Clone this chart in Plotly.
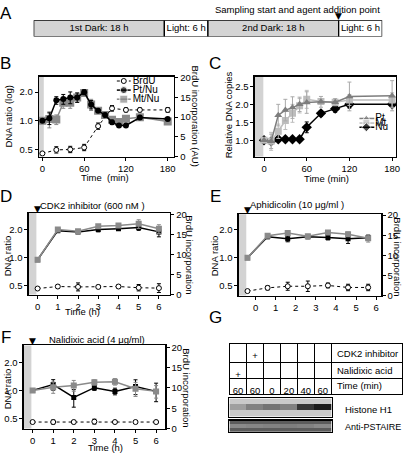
import math
import plotly.graph_objects as go

FONT = "Liberation Sans, Arial, Helvetica, sans-serif"
W, H = 409, 457

# ---------------- data ----------------
phase_labels = ["1st Dark: 18 h", "Light: 6 h", "2nd Dark: 18 h", "Light: 6 h"]
phase_hours = [18, 6, 18, 6]

b_time = [0, 10, 20, 30, 40, 50, 60, 70, 80, 90, 100, 110, 120, 140, 180]
b_pt_nu = [1.0, 1.06, 1.64, 1.69, 1.76, 1.76, 2.0, 1.48, 1.27, 1.15, 0.96, 0.89, 0.89, 1.08, 1.04]
b_pt_nu_err = [0.02, 0.15, 0.15, 0.2, 0.25, 0.2, 0.12, 0.15, 0.05, 0.05, 0.05, 0.04, 0.04, 0.05, 0.04]
b_mt_nu = [1.0, 1.04, 1.03, 1.55, 1.55, 1.76, 1.96, 1.48, 1.27, 1.15, 1.02, 0.97, 1.05, 1.09, 0.98]
b_mt_nu_err = [0.02, 0.2, 0.12, 0.2, 0.2, 0.2, 0.15, 0.2, 0.05, 0.05, 0.06, 0.05, 0.04, 0.06, 0.06]
b_brdu_time = [0, 20, 40, 60, 80, 100, 120, 140, 180]
b_brdu = [0.8, 1.7, 1.8, 2.3, 7.7, 12.2, 11.8, 11.8, 11.8]
b_brdu_err = [0.2, 0.8, 0.8, 0.8, 0.8, 0.7, 0.5, 0.5, 0.6]

c_time = [0, 10, 20, 30, 40, 50, 60, 80, 100, 120, 180]
c_pt = [1.0, 0.97, 1.70, 1.84, 1.91, 2.0, 2.05, 2.07, 2.06, 2.22, 2.24]
c_pt_err = [0.02, 0.2, 0.3, 0.3, 0.3, 0.2, 0.3, 0.15, 0.1, 0.4, 0.42]
c_mt = [1.0, 0.97, 1.25, 1.55, 1.75, 1.96, 2.14, 2.08, 2.06, 2.12, 2.12]
c_mt_err = [0.02, 0.25, 0.2, 0.25, 0.25, 0.2, 0.25, 0.08, 0.08, 0.15, 0.2]
c_nu = [1.0, 0.97, 1.03, 1.03, 1.03, 1.03, 1.36, 1.75, 1.88, 2.0, 2.0]
c_nu_err = [0.02, 0.03, 0.03, 0.03, 0.03, 0.03, 0.15, 0.08, 0.1, 0.1, 0.06]

h_time = [0, 1, 2, 3, 4, 5, 6]

d_pt_nu = [0.95, 1.96, 1.90, 2.02, 2.06, 2.12, 1.90]
d_pt_nu_err = [0.02, 0.05, 0.04, 0.12, 0.08, 0.15, 0.22]
d_mt_nu = [0.95, 2.01, 1.93, 2.18, 2.22, 2.32, 2.05]
d_mt_nu_err = [0.02, 0.1, 0.05, 0.1, 0.08, 0.25, 0.22]
d_brdu = [1.5, 2.0, 1.9, 1.9, 2.0, 1.7, 1.6]
d_brdu_err = [0.2, 0.4, 1.0, 0.4, 0.4, 0.8, 1.1]

e_pt_nu = [1.0, 1.69, 1.61, 1.69, 1.66, 1.61, 1.65]
e_pt_nu_err = [0.02, 0.08, 0.12, 0.08, 0.1, 0.18, 0.1]
e_mt_nu = [1.0, 1.73, 1.85, 1.71, 1.88, 1.80, 1.63]
e_mt_nu_err = [0.02, 0.08, 0.08, 0.08, 0.08, 0.1, 0.15]
e_brdu = [1.1, 1.9, 2.3, 2.3, 2.5, 2.0, 2.0]
e_brdu_err = [0.2, 0.5, 1.0, 1.3, 0.6, 0.8, 0.8]

f_pt_nu = [1.0, 1.155, 0.84, 1.07, 0.976, 1.10, 0.976]
f_pt_nu_err = [0.02, 0.15, 0.18, 0.07, 0.08, 0.2, 0.22]
f_mt_nu = [1.0, 1.08, 1.13, 1.22, 1.24, 1.04, 0.976]
f_mt_nu_err = [0.02, 0.15, 0.15, 0.08, 0.1, 0.18, 0.15]
f_brdu = [1.6, 1.6, 1.6, 1.7, 1.6, 1.6, 1.6]
f_brdu_err = [0.2, 0.5, 0.4, 0.6, 0.3, 0.3, 0.3]

g_cdk2 = ["", "+", "", "", "", ""]
g_nalidixic = ["+", "", "", "", "", ""]
g_time_min = ["60", "60", "0", "20", "40", "60"]
g_row_labels = ["CDK2 inhibitor", "Nalidixic acid", "Time (min)"]
h1_intensity = [0.25, 0.42, 0.5, 0.42, 0.85, 1.0]
pstaire_intensity = [0.6, 0.55, 0.5, 0.45, 0.5, 0.6]


def px(x):
    return x / W


def py(y):
    return 1 - y / H


fig = go.Figure()
ann = []
shapes = []

BLACK = "#000000"
GRAY = "#8a8a8a"
LGRAY = "#bdbdbd"
MGRAY = "#7d7d7d"
TICKF = dict(size=9.5, family=FONT, color="black")


def base_axis(**kw):
    d = dict(showline=True, linecolor="black", linewidth=1.3, showgrid=False,
             zeroline=False, ticks="outside", ticklen=3, tickwidth=1,
             tickcolor="black", tickfont=TICKF)
    d.update(kw)
    return d


# ---------------- Panel A ----------------
cum = [sum(phase_hours[:i]) for i in range(len(phase_hours))]
for lab, hrs, c0, col in zip(phase_labels, phase_hours, cum,
                             ["#d4d4d4", "#ffffff", "#d4d4d4", "#ffffff"]):
    fig.add_trace(go.Bar(x=[hrs], y=[0], base=[c0], orientation="h", width=1,
                         marker=dict(color=col, line=dict(color="black", width=1.3)),
                         xaxis="x", yaxis="y", showlegend=False, hoverinfo="skip"))
fig.add_trace(go.Scatter(x=[c0 + h / 2 for c0, h in zip(cum, phase_hours)], y=[0] * 4,
                         text=phase_labels, mode="text",
                         textfont=dict(size=9.5, family=FONT, color="black"),
                         xaxis="x", yaxis="y", showlegend=False, hoverinfo="skip"))
agent_hour = sum(phase_hours[:3])
ann.append(dict(x=agent_hour, xref="x", y=py(15.5), yref="paper", text="▼", showarrow=False,
                yanchor="bottom", font=dict(size=9, family="DejaVu Sans", color="black"), yshift=-3))
ann.append(dict(x=px(300), xref="paper", y=py(5), yref="paper", xanchor="center", yanchor="middle",
                text="Sampling start and agent addition point", showarrow=False,
                font=dict(size=9.5, family=FONT, color="black")))

# ---------------- Panel B ----------------
fig.add_trace(go.Scatter(x=b_time, y=b_mt_nu, mode="lines+markers", xaxis="x2", yaxis="y2",
                         line=dict(color=GRAY, width=1.5),
                         marker=dict(symbol="square", size=8, color=GRAY),
                         error_y=dict(type="data", array=b_mt_nu_err, color=GRAY, thickness=1, width=2),
                         showlegend=False))
fig.add_trace(go.Scatter(x=b_time, y=b_pt_nu, mode="lines+markers", xaxis="x2", yaxis="y2",
                         line=dict(color=BLACK, width=1.5),
                         marker=dict(symbol="circle", size=6, color=BLACK),
                         error_y=dict(type="data", array=b_pt_nu_err, color=BLACK, thickness=1, width=2),
                         showlegend=False))
fig.add_trace(go.Scatter(x=b_brdu_time, y=b_brdu, mode="lines+markers", xaxis="x2", yaxis="y3",
                         line=dict(color=BLACK, width=1, dash="dot"),
                         marker=dict(symbol="circle", size=5, color="white", line=dict(color=BLACK, width=1)),
                         error_y=dict(type="data", array=b_brdu_err, color=BLACK, thickness=1, width=2),
                         showlegend=False))
b_xr = [-5, 189]
shapes.append(dict(type="rect", xref="x2", yref="y2 domain", x0=b_xr[0], x1=2, y0=0, y1=1,
                   fillcolor="#d3d3d3", line=dict(width=0), layer="below"))

# ---------------- Panel C ----------------
fig.add_trace(go.Scatter(x=c_time, y=c_nu, mode="lines+markers", xaxis="x3", yaxis="y4",
                         line=dict(color=BLACK, width=1.5),
                         marker=dict(symbol="diamond", size=8, color=BLACK),
                         error_y=dict(type="data", array=c_nu_err, color=BLACK, thickness=1, width=2),
                         showlegend=False))
fig.add_trace(go.Scatter(x=c_time, y=c_mt, mode="lines+markers", xaxis="x3", yaxis="y4",
                         line=dict(color=LGRAY, width=1.5),
                         marker=dict(symbol="square", size=7, color=LGRAY),
                         error_y=dict(type="data", array=c_mt_err, color=LGRAY, thickness=1, width=2),
                         showlegend=False))
fig.add_trace(go.Scatter(x=c_time, y=c_pt, mode="lines+markers", xaxis="x3", yaxis="y4",
                         line=dict(color=MGRAY, width=1.5),
                         marker=dict(symbol="triangle-up", size=7, color=MGRAY),
                         error_y=dict(type="data", array=c_pt_err, color="#aaaaaa", thickness=1, width=2),
                         showlegend=False))
c_xr = [-13, 185.6]
shapes.append(dict(type="rect", xref="x3", yref="y4 domain", x0=c_xr[0], x1=-1, y0=0, y1=1,
                   fillcolor="#d3d3d3", line=dict(width=0), layer="below"))


# ---------------- Panels D, E, F ----------------
def hour_panel(xa, yl, yr, pt, pt_err, mt, mt_err, brdu, brdu_err, xr):
    fig.add_trace(go.Scatter(x=h_time, y=brdu, mode="lines+markers", xaxis=xa, yaxis=yr,
                             line=dict(color=BLACK, width=1, dash="dot"),
                             marker=dict(symbol="circle", size=5, color="white", line=dict(color=BLACK, width=1)),
                             error_y=dict(type="data", array=brdu_err, color=BLACK, thickness=1, width=2),
                             showlegend=False))
    fig.add_trace(go.Scatter(x=h_time, y=pt, mode="lines+markers", xaxis=xa, yaxis=yl,
                             line=dict(color=BLACK, width=1.5),
                             marker=dict(symbol="square", size=5, color=BLACK),
                             error_y=dict(type="data", array=pt_err, color=BLACK, thickness=1, width=2),
                             showlegend=False))
    fig.add_trace(go.Scatter(x=h_time, y=mt, mode="lines+markers", xaxis=xa, yaxis=yl,
                             line=dict(color=GRAY, width=1.5),
                             marker=dict(symbol="square", size=6, color=GRAY),
                             error_y=dict(type="data", array=mt_err, color=GRAY, thickness=1, width=2),
                             showlegend=False))
    shapes.append(dict(type="rect", xref=xa, yref=yl + " domain", x0=xr[0], x1=-0.06, y0=0, y1=1,
                       fillcolor="#d3d3d3", line=dict(width=0), layer="below"))


d_xr = [-0.44, 6.55]
e_xr = [-0.44, 6.65]
f_xr = [-0.43, 6.45]
hour_panel("x4", "y5", "y6", d_pt_nu, d_pt_nu_err, d_mt_nu, d_mt_nu_err, d_brdu, d_brdu_err, d_xr)
hour_panel("x5", "y7", "y8", e_pt_nu, e_pt_nu_err, e_mt_nu, e_mt_nu_err, e_brdu, e_brdu_err, e_xr)
hour_panel("x6", "y9", "y10", f_pt_nu, f_pt_nu_err, f_mt_nu, f_mt_nu_err, f_brdu, f_brdu_err, f_xr)

for xa, ytop in [("x4", 212.5), ("x5", 214), ("x6", 348)]:
    ann.append(dict(x=h_time[0], xref=xa, y=py(ytop), yref="paper", text="▼", showarrow=False,
                    yanchor="bottom", font=dict(size=9, family="DejaVu Sans", color="black"), yshift=-3))

# ---------------- Panel G ----------------
fig.add_trace(go.Table(
    domain=dict(x=[px(231.7), px(407)], y=[py(400), py(346)]),
    columnwidth=[17.2] * 6 + [72],
    header=dict(values=g_cdk2 + [""], height=19,
                align="center", line=dict(color="black", width=1),
                fill=dict(color="white"), font=dict(size=9.5, family=FONT, color="black")),
    cells=dict(values=[[n, t] for n, t in zip(g_nalidixic, g_time_min)] + [["", ""]],
               height=16, align="center", line=dict(color="black", width=1),
               fill=dict(color="white"), font=dict(size=9.5, family=FONT, color="black")),
))
for lab, yy in zip(g_row_labels, [356, 373.5, 389.5]):
    ann.append(dict(x=px(338), xref="paper", y=py(yy), yref="paper", text=lab, showarrow=False,
                    xanchor="left", yanchor="middle", font=dict(size=9.5, family=FONT, color="black")))

lanes = list(range(len(h1_intensity)))
bg = [0] * len(lanes)
fig.add_trace(go.Heatmap(z=[bg, h1_intensity, bg], x=lanes, y=[0, 1, 2], xaxis="x7", yaxis="y11",
                         colorscale=[[0, "#cacaca"], [1, "#1c1c1c"]], zmin=0, zmax=1,
                         showscale=False, hoverinfo="skip"))
fig.add_trace(go.Heatmap(z=[bg, pstaire_intensity, bg], x=lanes, y=[0, 1, 2], xaxis="x8", yaxis="y12",
                         colorscale=[[0, "#5c5c5c"], [1, "#a8a8a8"]], zmin=0, zmax=1,
                         showscale=False, hoverinfo="skip"))
ann.append(dict(x=px(346), xref="paper", y=py(414), yref="paper", text="Histone H1", showarrow=False,
                xanchor="left", yanchor="middle", font=dict(size=9.5, family=FONT, color="black")))
ann.append(dict(x=px(346), xref="paper", y=py(431.5), yref="paper", text="Anti-PSTAIRE", showarrow=False,
                xanchor="left", yanchor="middle", font=dict(size=9, family=FONT, color="black")))

# ---------------- Legends (drawn on a pixel overlay) ----------------
LX, LY = "x9", "y13"
leg_b = [("BrdU", 77.7), ("Pt/Nu", 87.0), ("Mt/Nu", 96.3)]
fig.add_trace(go.Scatter(x=[118, 132], y=[leg_b[0][1]] * 2, mode="lines", xaxis=LX, yaxis=LY,
                         line=dict(color=BLACK, width=1, dash="dot"), showlegend=False, hoverinfo="skip"))
fig.add_trace(go.Scatter(x=[125], y=[leg_b[0][1]], mode="markers", xaxis=LX, yaxis=LY,
                         marker=dict(symbol="circle", size=5, color="white", line=dict(color=BLACK, width=1)),
                         showlegend=False, hoverinfo="skip"))
fig.add_trace(go.Scatter(x=[118, 125, 132], y=[leg_b[1][1]] * 3, mode="lines+markers", xaxis=LX, yaxis=LY,
                         line=dict(color=BLACK, width=1.5), marker=dict(size=[0, 7, 0], color=BLACK),
                         showlegend=False, hoverinfo="skip"))
fig.add_trace(go.Scatter(x=[118, 125, 132], y=[leg_b[2][1]] * 3, mode="lines+markers", xaxis=LX, yaxis=LY,
                         line=dict(color=GRAY, width=1.5), marker=dict(symbol="square", size=[0, 8, 0], color=GRAY),
                         showlegend=False, hoverinfo="skip"))
fig.add_trace(go.Scatter(x=[134] * 3, y=[v for _, v in leg_b], text=[t for t, _ in leg_b], mode="text",
                         textposition="middle right", xaxis=LX, yaxis=LY,
                         textfont=dict(size=10, family=FONT, color="black"), showlegend=False, hoverinfo="skip"))
leg_c = [("Pt", 116.0, MGRAY, "triangle-up"), ("Mt", 120.7, LGRAY, "square"), ("Nu", 125.0, BLACK, "diamond")]
for name, yy, col, sym in leg_c:
    fig.add_trace(go.Scatter(x=[363, 370, 378], y=[yy] * 3, mode="lines+markers", xaxis=LX, yaxis=LY,
                             line=dict(color=col, width=1.5), marker=dict(symbol=sym, size=[0, 7, 0], color=col),
                             showlegend=False, hoverinfo="skip"))
fig.add_trace(go.Scatter(x=[379] * 3, y=[v[1] for v in leg_c], text=[v[0] for v in leg_c], mode="text",
                         textposition="middle right", xaxis=LX, yaxis=LY,
                         textfont=dict(size=10, family=FONT, color="black"), showlegend=False, hoverinfo="skip"))


# ---------------- text annotations ----------------
def txt(x, y, s, size=9.5, angle=0, anchor="center"):
    ann.append(dict(x=px(x), y=py(y), xref="paper", yref="paper", text=s, showarrow=False,
                    textangle=angle, xanchor=anchor, yanchor="middle",
                    font=dict(size=size, family=FONT, color="black")))


for letter, x, y in [("A", 6, 9), ("B", 6, 60), ("C", 217, 60), ("D", 6, 196),
                     ("E", 218, 196), ("F", 6, 340), ("G", 218, 320)]:
    txt(x, y, letter, size=17)

txt(9, 114, "DNA ratio (log)", angle=-90)
txt(197, 113, "BrdU incorporation (AU)", angle=90)
txt(106, 176, "Time  (min)")
txt(231, 112, "Relative DNA copies", angle=-90)
txt(330, 177, "Time (min)")

txt(93, 205, "CDK2 inhibitor (600 nM )")
txt(7, 256, "DNA ratio", angle=-90)
txt(191, 255, "BrdU incorporation", angle=90)
txt(83, 313, "Time (h)")

txt(300, 204, "Aphidicolin (10 μg/ml )")
txt(217, 256, "DNA ratio", angle=-90)
txt(402, 257, "BrdU incorporation", angle=90)

txt(98, 342, "Nalidixic acid (4 μg/ml)")
txt(7, 392, "DNA ratio", angle=-90)
txt(188, 391, "BrdU incorporation", angle=90)
txt(107, 452, "Time (h)")

# ---------------- axes ----------------
lg = math.log10
blot_ax = dict(showline=True, mirror=True, linecolor="black", linewidth=1.3,
               showticklabels=False, ticks="", showgrid=False, zeroline=False)
layout_axes = dict(
    xaxis=dict(domain=[px(34), px(386)], range=[0, sum(phase_hours)], anchor="y", visible=False),
    yaxis=dict(domain=[py(32.3), py(15.7)], range=[-0.5, 0.5], anchor="x", visible=False),

    xaxis2=base_axis(domain=[px(39.3), px(175.7)], range=b_xr, anchor="y2", mirror=True,
                     tickvals=[0, 60, 120, 180]),
    yaxis2=base_axis(domain=[py(155), py(73.3)], type="log", range=[lg(0.418), lg(2.91)], anchor="x2",
                     tickvals=[0.5, 1, 2], ticktext=["0.5", "1.0", "2.0"]),
    yaxis3=base_axis(domain=[py(155), py(73.3)], range=[0, 20.2], anchor="x2", overlaying="y2",
                     side="right", tickvals=[0, 5, 10, 15, 20]),

    xaxis3=base_axis(domain=[px(257.3), px(400)], range=c_xr, anchor="y4", mirror=True,
                     tickvals=[0, 60, 120, 180]),
    yaxis4=base_axis(domain=[py(155), py(73.3)], range=[0.545, 2.77], anchor="x3", mirror=True,
                     tickvals=[1.0, 1.5, 2.0, 2.5], ticktext=["1.0", "1.5", "2.0", "2.5"]),

    xaxis4=base_axis(domain=[px(29), px(171.7)], range=d_xr, anchor="y5", mirror=True, tickvals=h_time),
    yaxis5=base_axis(domain=[py(296), py(212.5)], type="log", range=[lg(0.40), lg(3.05)], anchor="x4",
                     tickvals=[0.5, 1, 2], ticktext=["0.5", "1.0", "2.0"]),
    yaxis6=base_axis(domain=[py(296), py(212.5)], range=[0, 20.4], anchor="x4", overlaying="y5",
                     side="right", tickvals=[0, 5, 10, 15, 20]),

    xaxis5=base_axis(domain=[px(241), px(385)], range=e_xr, anchor="y7", mirror=True,
                     tickvals=[t + 0.4 for t in h_time], ticktext=[str(t) for t in h_time]),
    yaxis7=base_axis(domain=[py(297), py(214)], type="log", range=[-0.407, 0.470], anchor="x5",
                     tickvals=[0.5, 1, 2], ticktext=["0.5", "1.0", "2.0"]),
    yaxis8=base_axis(domain=[py(297), py(214)], range=[0, 20.2], anchor="x5", overlaying="y7",
                     side="right", tickvals=[0, 5, 10, 15, 20]),

    xaxis6=base_axis(domain=[px(24), px(167)], range=f_xr, anchor="y9", mirror=True, tickvals=h_time),
    yaxis9=base_axis(domain=[py(433), py(348)], type="log", range=[-0.41, 0.484], anchor="x6",
                     tickvals=[0.5, 1, 2], ticktext=["0.5", "1.0", "2.0"]),
    yaxis10=base_axis(domain=[py(433), py(348)], range=[0, 20.5], anchor="x6", overlaying="y9",
                      side="right", tickvals=[0, 5, 10, 15, 20]),

    xaxis7=dict(domain=[px(231.7), px(335)], range=[-0.5, 5.5], anchor="y11", **blot_ax),
    yaxis11=dict(domain=[py(421), py(402.3)], range=[-0.5, 2.5], anchor="x7", **blot_ax),
    xaxis8=dict(domain=[px(231.7), px(335)], range=[-0.5, 5.5], anchor="y12", **blot_ax),
    yaxis12=dict(domain=[py(436.7), py(425)], range=[-0.5, 2.5], anchor="x8", **blot_ax),

    xaxis9=dict(domain=[0, 1], range=[0, W], anchor="y13", visible=False, fixedrange=True),
    yaxis13=dict(domain=[0, 1], range=[H, 0], anchor="x9", visible=False, fixedrange=True),
)

fig.update_layout(
    width=W, height=H, margin=dict(l=0, r=0, t=0, b=0),
    paper_bgcolor="white", plot_bgcolor="rgba(0,0,0,0)",
    barmode="overlay", showlegend=False, hovermode=False,
    font=dict(family=FONT, size=10, color="black"),
    annotations=ann, shapes=shapes,
    **layout_axes,
)

fig.write_html("out.html", config={"displayModeBar": False, "staticPlot": True},
               post_script="document.body.style.margin='0px';")
